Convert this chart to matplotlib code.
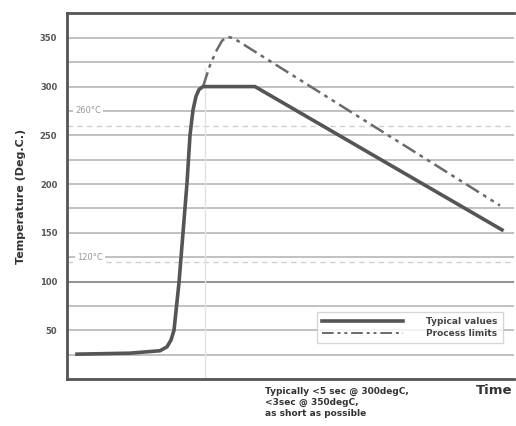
import matplotlib
matplotlib.use("Agg")
import matplotlib.pyplot as plt
from matplotlib.lines import Line2D

# ---- data (time in arbitrary units, temperature in deg C) ----
typical_time = [10, 63, 93, 100, 104, 107, 112, 116, 120, 123, 126, 129, 132, 136, 188, 435]
typical_temp = [25.5, 26.5, 29, 33, 40, 50, 99, 150, 201, 250, 276, 290, 297, 300, 300, 153]
limit_time = [136, 143, 149, 155, 160, 166, 433]
limit_temp = [300, 322, 336, 347, 351, 350, 178]
y_ticks = [50, 100, 150, 200, 250, 300, 350]
grid_levels = [25, 50, 75, 100, 125, 150, 175, 200, 225, 250, 275, 300, 325, 350]
ref_levels = [260, 120]
ref_labels = ["260\u00b0C", "120\u00b0C"]
legend_labels = ["Typical values", "Process limits"]
note_text = "Typically <5 sec @ 300degC,\n<3sec @ 350degC,\nas short as possible"

fig = plt.figure(figsize=(5.16, 4.26), dpi=100)
ax = fig.add_axes([67/516, 1-379/426, (514-67)/516, (379-13)/426])
ax.set_xlim(0, 447)
ax.set_ylim(0, 375.5)

for g in grid_levels:
    c = '#8a8a8a' if g == 100 else '#b0b0b0'
    ax.axhline(g, color=c, lw=1.3 if g == 100 else 1.1, zorder=1)
for r in ref_levels:
    ax.axhline(r, color='#d0d0d0', lw=1.0, ls=(0, (4, 3)), zorder=1)

ax.axvline(138, ymin=0.0, ymax=0.85, color='#e2e2e2', lw=1.0, zorder=1)

ax.text(8, 275, ref_labels[0], fontsize=6, color='#999999', va='center', ha='left',
        bbox=dict(facecolor='white', edgecolor='none', pad=1.5), zorder=2)
ax.text(10, 125, ref_labels[1], fontsize=6, color='#999999', va='center', ha='left',
        bbox=dict(facecolor='white', edgecolor='none', pad=1.5), zorder=2)

ax.plot(limit_time, limit_temp, color='#6a6a6a', lw=1.8,
        dashes=(6, 2, 1.5, 2, 1.5, 2), zorder=3)
ax.plot(typical_time, typical_temp, color='#555555', lw=2.6, zorder=4,
        solid_joinstyle='round')

ax.set_yticks(y_ticks)
ax.set_yticklabels([str(v) for v in y_ticks], fontsize=6, fontweight='bold', color='#555555')
ax.tick_params(axis='y', length=0, pad=7)
ax.set_xticks([])

for s in ['left', 'top', 'bottom']:
    ax.spines[s].set_color('#555555')
    ax.spines[s].set_linewidth(2.0)
ax.spines['right'].set_visible(False)

ax.set_ylabel("Temperature (Deg.C.)", fontsize=8, fontweight='bold', color='#333333', labelpad=10)

handles = [Line2D([], [], color='#555555', lw=2.6),
           Line2D([], [], color='#6a6a6a', lw=1.4, dashes=(6, 2, 1.5, 2, 1.5, 2))]
leg = ax.legend(handles, legend_labels, loc='lower right', bbox_to_anchor=(0.985, 0.085),
                fontsize=6.5, frameon=True, fancybox=False, handlelength=9,
                handletextpad=2.5, borderpad=0.6, labelspacing=0.3, markerfirst=True)
leg.get_frame().set_edgecolor('#cccccc')
leg.get_frame().set_linewidth(1.0)
for t in leg.get_texts():
    t.set_fontweight('bold')
    t.set_color('#444444')
    t.set_ha('left')

fig.text(265/516, 1-387/426, note_text, fontsize=6.5, fontweight='bold', color='#333333',
         va='top', ha='left', linespacing=1.25)
fig.text(476/516, 1-390/426, "Time", fontsize=9.5, fontweight='bold', color='#333333',
         va='center', ha='left')

fig.savefig("out.png", dpi=100, facecolor='white')
